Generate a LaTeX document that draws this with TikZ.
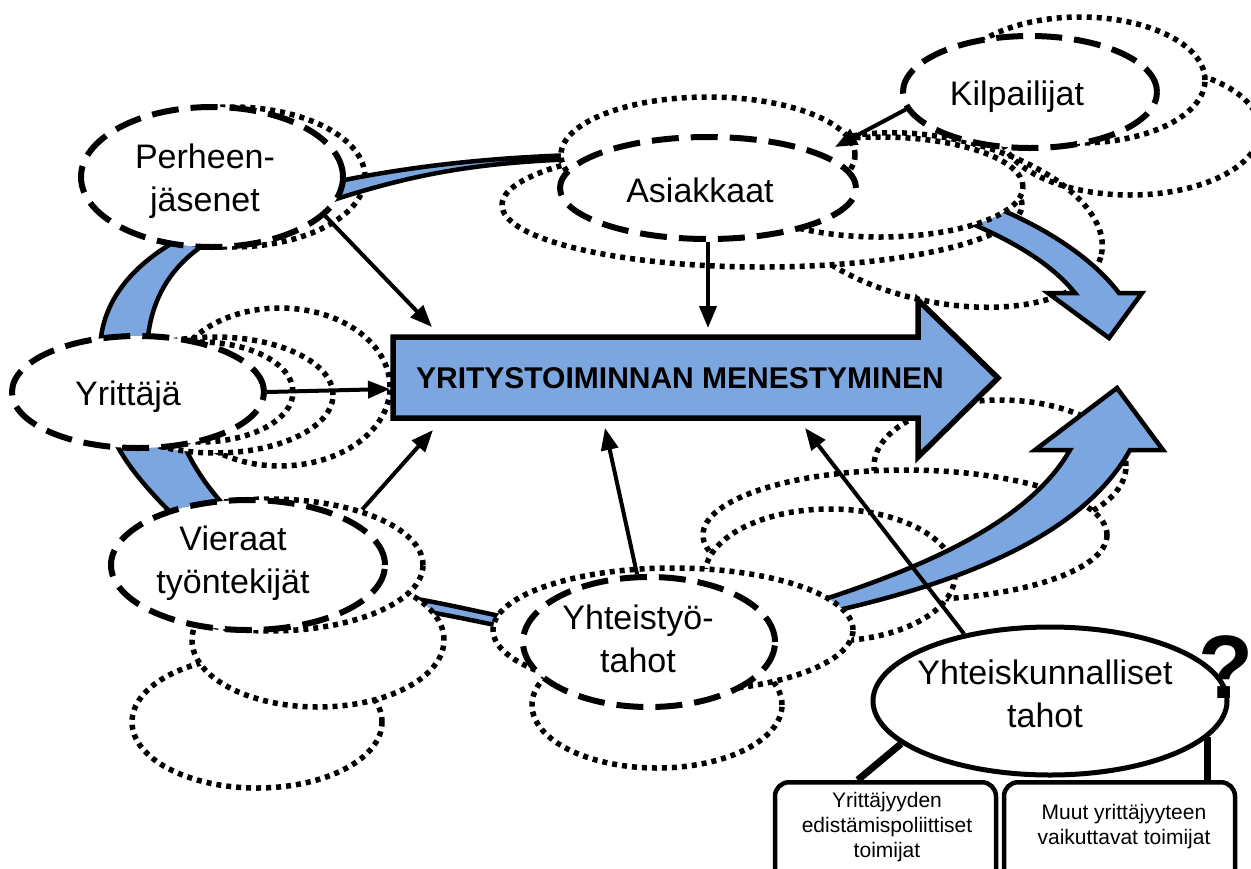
\documentclass[tikz,border=0pt]{standalone}
\usepackage{fontspec}
\setmainfont{Liberation Sans}
\usetikzlibrary{arrows.meta,shapes.geometric}
\definecolor{bandblue}{RGB}{124,166,224}
\begin{document}
\begin{tikzpicture}[x=1pt,y=-1pt,
  elsize/.style 2 args={minimum width=#1, minimum height=#2},
  dotel/.style={ellipse, draw, fill=white, line width=5.5pt, dash pattern=on 5pt off 5pt, inner sep=0pt},
  dotopen/.style={ellipse, draw, line width=5.5pt, dash pattern=on 5pt off 5pt, inner sep=0pt},
  dashel/.style={ellipse, draw, fill=white, line width=6pt, dash pattern=on 27pt off 12pt, inner sep=0pt},
  solidel/.style={ellipse, draw, fill=white, line width=5pt, inner sep=0pt},
  lbl/.style={font=\fontsize{34}{43}\selectfont, align=center, inner sep=0pt},
  boxtxt/.style={font=\fontsize{21}{25}\selectfont, align=center, inner sep=0pt},
  smallbox/.style={draw, fill=white, line width=4.5pt, rounded corners=14pt, inner sep=0pt},
  band/.style={fill=bandblue, draw=black, line width=4.5pt, line join=round},
  bigarrow/.style={fill=bandblue, draw=black, line width=5.5pt, line join=miter},
  conn/.style={line width=4pt, -{Triangle[length=22pt,width=17pt]}},
  stem/.style={line width=7pt},
]
\useasboundingbox (0,0) rectangle (1251,868);
\fill[white] (0,0) rectangle (1251,868);
\clip (0,0) rectangle (1251,868);

% ring bands on the left side
\draw[band] (100,352) .. controls (100,300) and (135,262) .. (185,236) -- (215,238) .. controls (172,262) and (148,300) .. (147,352) -- cycle;
\draw[band] (112,435) .. controls (125,465) and (150,492) .. (178,520) -- (230,512) .. controls (205,485) and (190,462) .. (180,435) -- cycle;
\draw[band] (385,594) .. controls (430,600) and (470,610) .. (505,617) -- (505,627) .. controls (470,620) and (430,611) .. (385,605) -- cycle;

% family members
\node[dotel, elsize={266pt}{140pt}] (p1) at (232,177) {};
\draw[band] (330,183) .. controls (400,168) and (480,158) .. (575,155) -- (575,159) .. controls (480,163) and (420,172) .. (330,201) -- cycle;
\node[dashel, elsize={262pt}{140pt}] (perh) at (212,177) {};
\node[lbl] (perh-t) at (205,181) {Perheen-\\jäsenet};

% entrepreneur
\node[dotel, elsize={220pt}{158pt}] (y3) at (280,387) {};
\node[dotel, elsize={236pt}{116pt}] (y2) at (215,395) {};
\node[dotel, elsize={186pt}{100pt}] (y1) at (200,392) {};
\node[dashel, elsize={252pt}{112pt}] (yri) at (138,392) {};
\node[lbl] (yri-t) at (128,397) {Yrittäjä};

% employees
\node[dotel, elsize={250pt}{132pt}] (v3) at (257,722) {};
\node[dotel, elsize={252pt}{134pt}] (v2) at (318,640) {};
\node[dotel, elsize={306pt}{132pt}] (v1) at (270,565) {};
\node[dashel, elsize={274pt}{130pt}] (vie) at (248,565) {};
\node[lbl] (vie-t) at (233,563) {Vieraat\\työntekijät};

% customers and competitors
\node[dotopen, elsize={330pt}{164pt}, rotate=-12] (ra) at (940,220) {};
\node[dotopen, elsize={260pt}{130pt}] (kf) at (1130,130) {};
\node[dotel, elsize={520pt}{124pt}] (ab) at (762,205) {};
\draw[band, line join=miter] (990,205) .. controls (1040,225) and (1090,255) .. (1119,293) -- (1142,293) -- (1109,338) -- (1048,293) -- (1075,293) .. controls (1050,262) and (1010,240) .. (968,222) -- cycle;
\node[dotel, elsize={286pt}{100pt}] (ab2) at (880,187) {};
\node[dotel, elsize={294pt}{116pt}] (aa) at (708,155) {};
\node[dashel, elsize={296pt}{102pt}] (asi) at (708,188) {};
\node[lbl] (asi-t) at (700,190) {Asiakkaat};
\node[dotel, elsize={250pt}{126pt}] (kd) at (1080,80) {};
\node[dashel, elsize={254pt}{112pt}] (kil) at (1030,92) {};
\node[lbl] (kil-t) at (1017,97) {Kilpailijat};

% lower right group
\node[dotel, elsize={252pt}{132pt}] (r1) at (1000,466) {};
\node[dotel, elsize={404pt}{130pt}] (r2) at (905,535) {};
\node[dotel, elsize={250pt}{132pt}] (r3) at (830,575) {};

% central arrow
\draw[bigarrow] (393,337) -- (918,337) -- (918,300) -- (998,378) -- (918,457) -- (918,418) -- (393,418) -- cycle;
\node[font=\bfseries\fontsize{30}{36}\selectfont, inner sep=0pt] (main) at (680,378) {YRITYSTOIMINNAN MENESTYMINEN};

% rising curved arrow
\draw[band, line join=miter] (822,600) .. controls (930,565) and (1030,520) .. (1070,450) -- (1035,450) -- (1117,388) -- (1163,450) -- (1130,450) .. controls (1080,540) and (950,585) .. (830,612) -- cycle;

% partners
\node[dotel, elsize={250pt}{126pt}] (yh2) at (657,705) {};
\node[dotel, elsize={360pt}{124pt}] (yh1) at (673,630) {};
\node[dashel, elsize={252pt}{130pt}] (yht) at (649,642) {};
\node[lbl] (yht-t) at (638,639) {Yhteistyö-\\tahot};

% societal actors
\node[solidel, elsize={354pt}{148pt}] (yhk) at (1050,701) {};
\node[lbl] (yhk-t) at (1045,694) {Yhteiskunnalliset\\tahot};
\node[font=\bfseries\fontsize{90}{90}\selectfont, anchor=base, inner sep=0pt] (qm) at (1226,698) {?};

\node[smallbox, minimum width=221pt, minimum height=120pt, anchor=north] (box1) at (885.5,780) {};
\node[smallbox, minimum width=231pt, minimum height=120pt, anchor=north] (box2) at (1119.5,780) {};
\node[boxtxt] (box1-t) at (887,827) {Yrittäjyyden\\edistämispoliittiset\\toimijat};
\node[boxtxt] (box2-t) at (1124,827) {Muut yrittäjyyteen\\vaikuttavat toimijat};

\draw[stem] (yhk.196) -- (box1.114);
\draw[stem] (yhk.-13) -- (yhk.-13 |- box2.north);

% influence arrows
\coordinate (t-perh) at (432,327);
\coordinate (t-asi) at (708,328);
\coordinate (t-kil) at (835,147);
\coordinate (t-yri) at (390,389);
\coordinate (t-vie) at (433,430);
\coordinate (t-yht) at (605,428);
\coordinate (t-yhk) at (805,428);
\draw[conn] (perh.-19) -- (t-perh);
\draw[conn] (asi.south) -- (t-asi);
\draw[conn] (kil.188) -- (t-kil);
\draw[conn] (yri.east) -- (t-yri);
\draw[conn] (v1.31) -- (t-vie);
\draw[conn] (yht.100) -- (t-yht);
\draw[conn] (yhk.142) -- (t-yhk);
\end{tikzpicture}
\end{document}
